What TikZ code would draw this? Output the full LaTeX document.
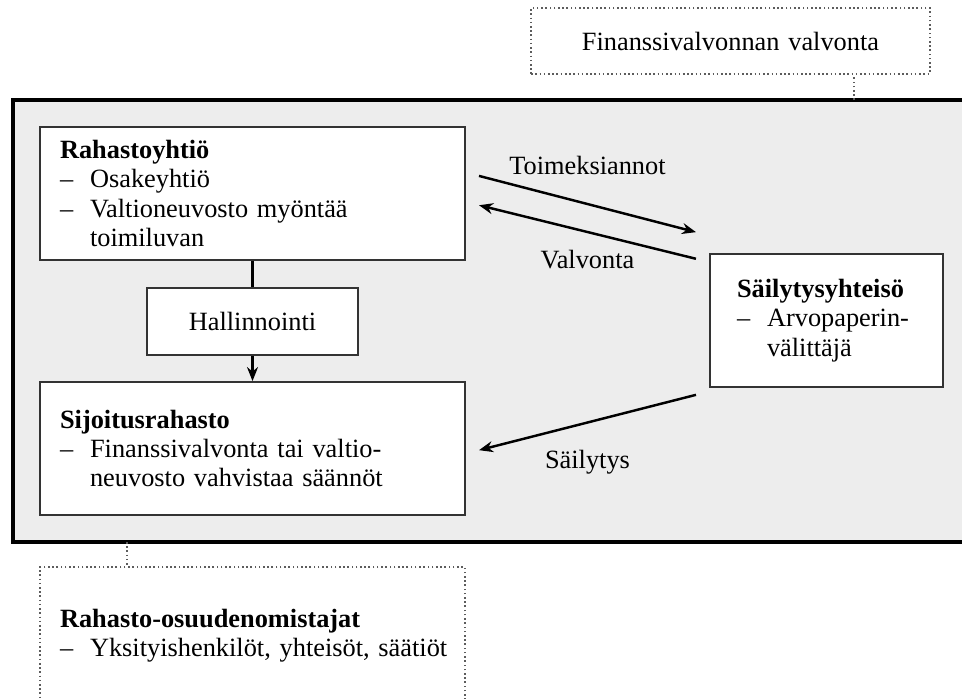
\documentclass[tikz,border=0pt]{standalone}
\usepackage{fontspec}
\setmainfont{Liberation Serif}
\usetikzlibrary{arrows.meta}
\definecolor{taustaharmaa}{HTML}{EDEDED}
\definecolor{reunaharmaa}{HTML}{333333}
\newcommand{\viiva}{\makebox[0.6cm][l]{--}}
\newcommand{\sisennys}{\hspace*{0.6cm}}
\tikzset{
  laatikko/.style={draw=reunaharmaa, line width=1.1pt, fill=white, inner xsep=0.4cm, inner ysep=0pt, align=left},
  katko/.style={draw=reunaharmaa!80, line width=0.9pt, dash pattern=on 0.9pt off 1.5pt},
  nuoli/.style={-{Stealth[length=0.28cm,width=0.22cm]}, line width=1.4pt},
}
\begin{document}
\begin{tikzpicture}[x=0.02cm, y=-0.02cm, font=\fontsize{15}{16.6}\selectfont]
  \useasboundingbox (0,0) rectangle (962,698);
  % Ulompi kehys
  \draw[line width=1.8pt, fill=taustaharmaa] (13,100) rectangle (990,542);
  \coordinate (kehysyla) at (854,100);
  \coordinate (kehysala) at (127,542);
  % Valvoja ylhaalla
  \node[katko, fill=white, align=center, text width=7.74cm, minimum height=1.32cm] (valvoja) at (730.5,41) {Finanssivalvonnan valvonta};
  \draw[katko] (kehysyla) -- (kehysyla |- valvoja.south);
  % Laatikot kehyksen sisalla
  \node[laatikko, text width=7.7cm, minimum height=2.66cm] (rahastoyhtio) at (252.5,193.5)
    {\textbf{Rahastoyhtiö}\\ \viiva Osakeyhtiö\\ \viiva Valtioneuvosto myöntää\\ \sisennys toimiluvan};
  \node[laatikko, align=center, text width=3.42cm, minimum height=1.34cm] (hallinnointi) at (252.5,321.5) {Hallinnointi};
  \node[laatikko, text width=7.7cm, minimum height=2.66cm] (sijoitus) at (252.5,448.5)
    {\textbf{Sijoitusrahasto}\\ \viiva Finanssivalvonta tai valtio-\\ \sisennys neuvosto vahvistaa säännöt};
  \node[laatikko, inner xsep=0.54cm, text width=3.58cm, minimum height=2.66cm] (sailytys) at (826.5,320.5)
    {\textbf{Säilytysyhteisö}\\ \viiva Arvopaperin-\\ \sisennys välittäjä};
  % Yhteydet
  \draw[line width=1.4pt] (rahastoyhtio) -- (hallinnointi);
  \draw[nuoli] (hallinnointi) -- (sijoitus);
  \draw[nuoli, shorten <=0.27cm, shorten >=0.27cm] ([yshift=0.42cm]rahastoyhtio.east) -- ([yshift=1.7cm]sailytys.west)
    node[midway, above=0.45cm] {Toimeksiannot};
  \draw[nuoli, shorten <=0.27cm, shorten >=0.27cm] ([yshift=1.17cm]sailytys.west) -- ([yshift=-0.17cm]rahastoyhtio.east)
    node[midway, below=0.22cm] {Valvonta};
  \draw[nuoli, shorten <=0.27cm, shorten >=0.27cm] ([yshift=-1.42cm]sailytys.west) -- ([yshift=-0.1cm]sijoitus.east)
    node[midway, below=0.42cm] {Säilytys};
  % Osuudenomistajat alhaalla
  \node[katko, fill=white, inner xsep=0.4cm, align=left, text width=7.7cm, minimum height=2.76cm] (omistajat) at (252.5,636)
    {\textbf{Rahasto-osuudenomistajat}\\ \mbox{\viiva Yksityishenkilöt, yhteisöt, säätiöt}};
  \draw[katko] (kehysala) -- (kehysala |- omistajat.north);
\end{tikzpicture}
\end{document}
